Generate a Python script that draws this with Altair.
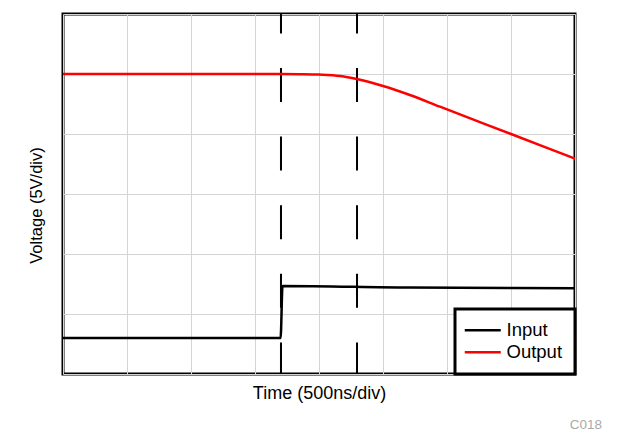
import altair as alt
import pandas as pd

# Time in divisions (500 ns/div), voltage in divisions (5 V/div)
input_t = [0.0, 3.40, 3.43, 5.4, 8.0]
input_v = [0.60, 0.60, 1.467, 1.44, 1.43]

output_t = [0.0, 3.4, 3.7, 4.0, 4.33, 4.59, 5.0, 5.42, 5.89, 7.0, 8.0]
output_v = [5.0, 5.0, 4.997, 4.99, 4.967, 4.917, 4.80, 4.65, 4.455, 4.00, 3.59]

cursor_t = [3.406, 4.594]

x_ticks = list(range(0, 9))
y_ticks = list(range(0, 7))

rows = []
for t, v in zip(input_t, input_v):
    rows.append({"t": t, "v": v, "series": "Input"})
for t, v in zip(output_t, output_v):
    rows.append({"t": t, "v": v, "series": "Output"})
df = pd.DataFrame(rows)
cur = pd.DataFrame({"t": cursor_t})

FONT = "Liberation Sans"

xscale = alt.Scale(domain=[0, 8], nice=False, zero=False)
yscale = alt.Scale(domain=[0, 6], nice=False, zero=False)

xaxis = alt.Axis(values=x_ticks, labels=False, ticks=False, domain=False,
                 grid=True, gridColor="#d4d4d4", gridWidth=1,
                 title="Time (500ns/div)", titleFont=FONT, titleFontSize=18,
                 titleFontWeight="normal", titleColor="black", titlePadding=10)
yaxis = alt.Axis(values=y_ticks, labels=False, ticks=False, domain=False,
                 grid=True, gridColor="#d4d4d4", gridWidth=1,
                 title="Voltage (5V/div)", titleFont=FONT, titleFontSize=16.5,
                 titleFontWeight="normal", titleColor="black", titlePadding=19,
                 titleY=191)

lines = alt.Chart(df).mark_line(strokeWidth=2.5, interpolate="monotone").encode(
    x=alt.X("t:Q", scale=xscale, axis=xaxis),
    y=alt.Y("v:Q", scale=yscale, axis=yaxis),
    color=alt.Color(
        "series:N",
        scale=alt.Scale(domain=["Input", "Output"], range=["#000000", "#ff0000"]),
        legend=alt.Legend(
            title=None, orient="bottom-right", offset=0,
            fillColor="white", strokeColor="black",
            padding=12, rowPadding=3,
            symbolType="M-3,0H3", symbolSize=144, symbolStrokeWidth=2.5,
            symbolOffset=6.5, labelOffset=14.5,
            labelFont=FONT, labelFontSize=18.5, labelColor="black",
        ),
    ),
    order=alt.Order("t:Q"),
)

cursors = alt.Chart(cur).mark_rule(
    color="black", strokeWidth=2, strokeDash=[34, 34.6], strokeDashOffset=14.6
).encode(
    x=alt.X("t:Q", scale=xscale),
    y=alt.datum(6),
    y2=alt.datum(0),
)

chart = alt.layer(cursors, lines).properties(
    width=512,
    height=360,
    autosize=alt.AutoSizeParams(type="none"),
    padding={"left": 55, "top": 6, "right": 50, "bottom": 63},
    title=alt.TitleParams(
        "C018", orient="bottom", anchor="end", frame="group",
        font=FONT, fontSize=13.5, fontWeight="normal", color="#aaaaaa",
        dx=27, offset=16,
    ),
).configure_view(
    stroke="black", strokeWidth=3
).configure_legend(
    strokeWidth=3
)

chart.save("out.html", embed_options={"renderer": "svg", "actions": False})
